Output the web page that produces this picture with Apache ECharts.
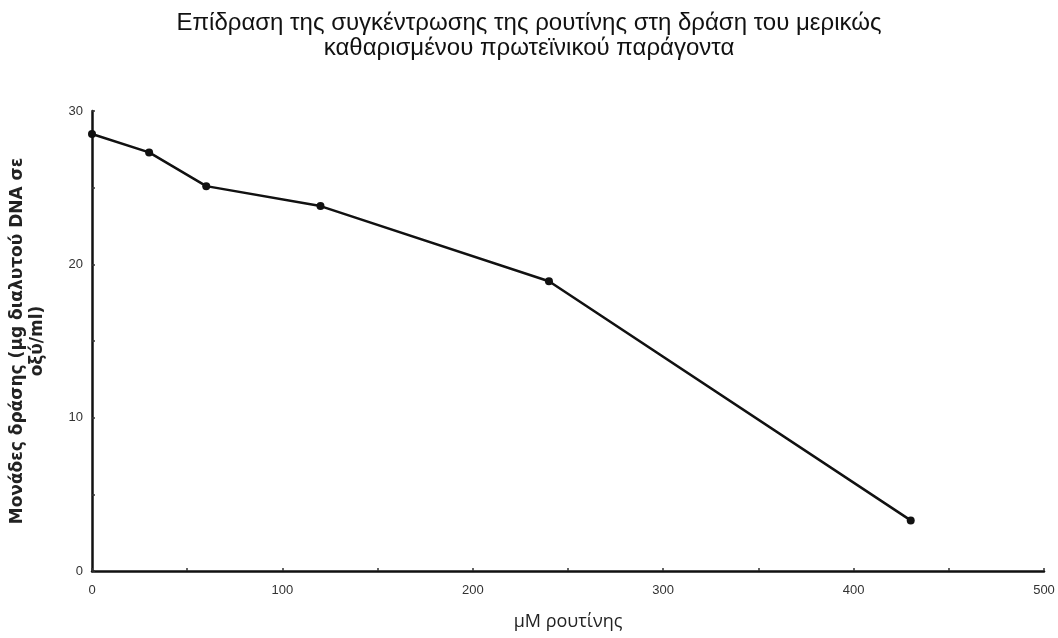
<!DOCTYPE html>
<html>
<head>
<meta charset="utf-8">
<script src="https://cdn.jsdelivr.net/npm/echarts@6/dist/echarts.min.js"></script>
<style>
  html, body { margin: 0; padding: 0; background: #ffffff; }
  #chart { width: 1058px; height: 638px; }
</style>
</head>
<body>
<div id="chart"></div>
<script>
// Rutin concentration (μM) and activity units (μg acid-soluble DNA/ml)
const rutinConc = [0, 30, 60, 120, 240, 430];
const activity = [28.5, 27.3, 25.1, 23.8, 18.9, 3.3];
const xLabels = ['0', '100', '200', '300', '400', '500'];
const yLabels = ['0', '10', '20', '30'];

const chart = echarts.init(document.getElementById('chart'));
const font = '"Liberation Sans", Arial, sans-serif';
const sideFont = '"Open Sans", "Liberation Sans", sans-serif';

chart.setOption({
  backgroundColor: '#ffffff',
  animation: false,
  title: {
    text: 'Επίδραση της συγκέντρωσης της ρουτίνης στη δράση του μερικώς\nκαθαρισμένου πρωτεϊνικού παράγοντα',
    left: 'center',
    top: 6,
    textStyle: { fontFamily: font, fontSize: 24, fontWeight: 'normal', color: '#111', lineHeight: 25, align: 'center' }
  },
  grid: { left: 92, right: 14, top: 111, bottom: 67, outerBoundsMode: 'none', containLabel: false },
  xAxis: {
    type: 'value',
    min: 0, max: 500, interval: 50,
    name: 'μM ρουτίνης',
    nameLocation: 'middle',
    nameGap: 42,
    nameTextStyle: { fontFamily: sideFont, fontSize: 18, color: '#222' },
    axisLine: { lineStyle: { color: '#111', width: 2.5 } },
    axisTick: { inside: true, length: 3, lineStyle: { color: '#333', width: 1.5 } },
    axisLabel: {
      fontFamily: font, fontSize: 13, color: '#333', margin: 13,
      formatter: v => xLabels.includes(String(v)) ? String(v) : ''
    },
    splitLine: { show: false }
  },
  yAxis: {
    type: 'value',
    min: 0, max: 30, interval: 5,
    name: 'Μονάδες δράσης (μg διαλυτού DNA σε\nοξύ/ml)',
    nameLocation: 'middle',
    nameGap: 44,
    nameRotate: 90,
    nameTextStyle: { fontFamily: '"DejaVu Sans", sans-serif', fontSize: 17, fontWeight: 'bold', color: '#222', lineHeight: 20, align: 'center' },
    axisLine: { lineStyle: { color: '#111', width: 2.5 } },
    axisTick: { inside: true, length: 3, lineStyle: { color: '#333', width: 1.5 } },
    axisLabel: {
      fontFamily: font, fontSize: 13, color: '#333', margin: 9,
      formatter: v => yLabels.includes(String(v)) ? String(v) : ''
    },
    splitLine: { show: false }
  },
  series: [{
    type: 'line',
    data: rutinConc.map((x, i) => [x, activity[i]]),
    symbol: 'circle',
    symbolSize: 8,
    lineStyle: { color: '#111', width: 2.5 },
    itemStyle: { color: '#111' }
  }]
});
</script>
</body>
</html>
